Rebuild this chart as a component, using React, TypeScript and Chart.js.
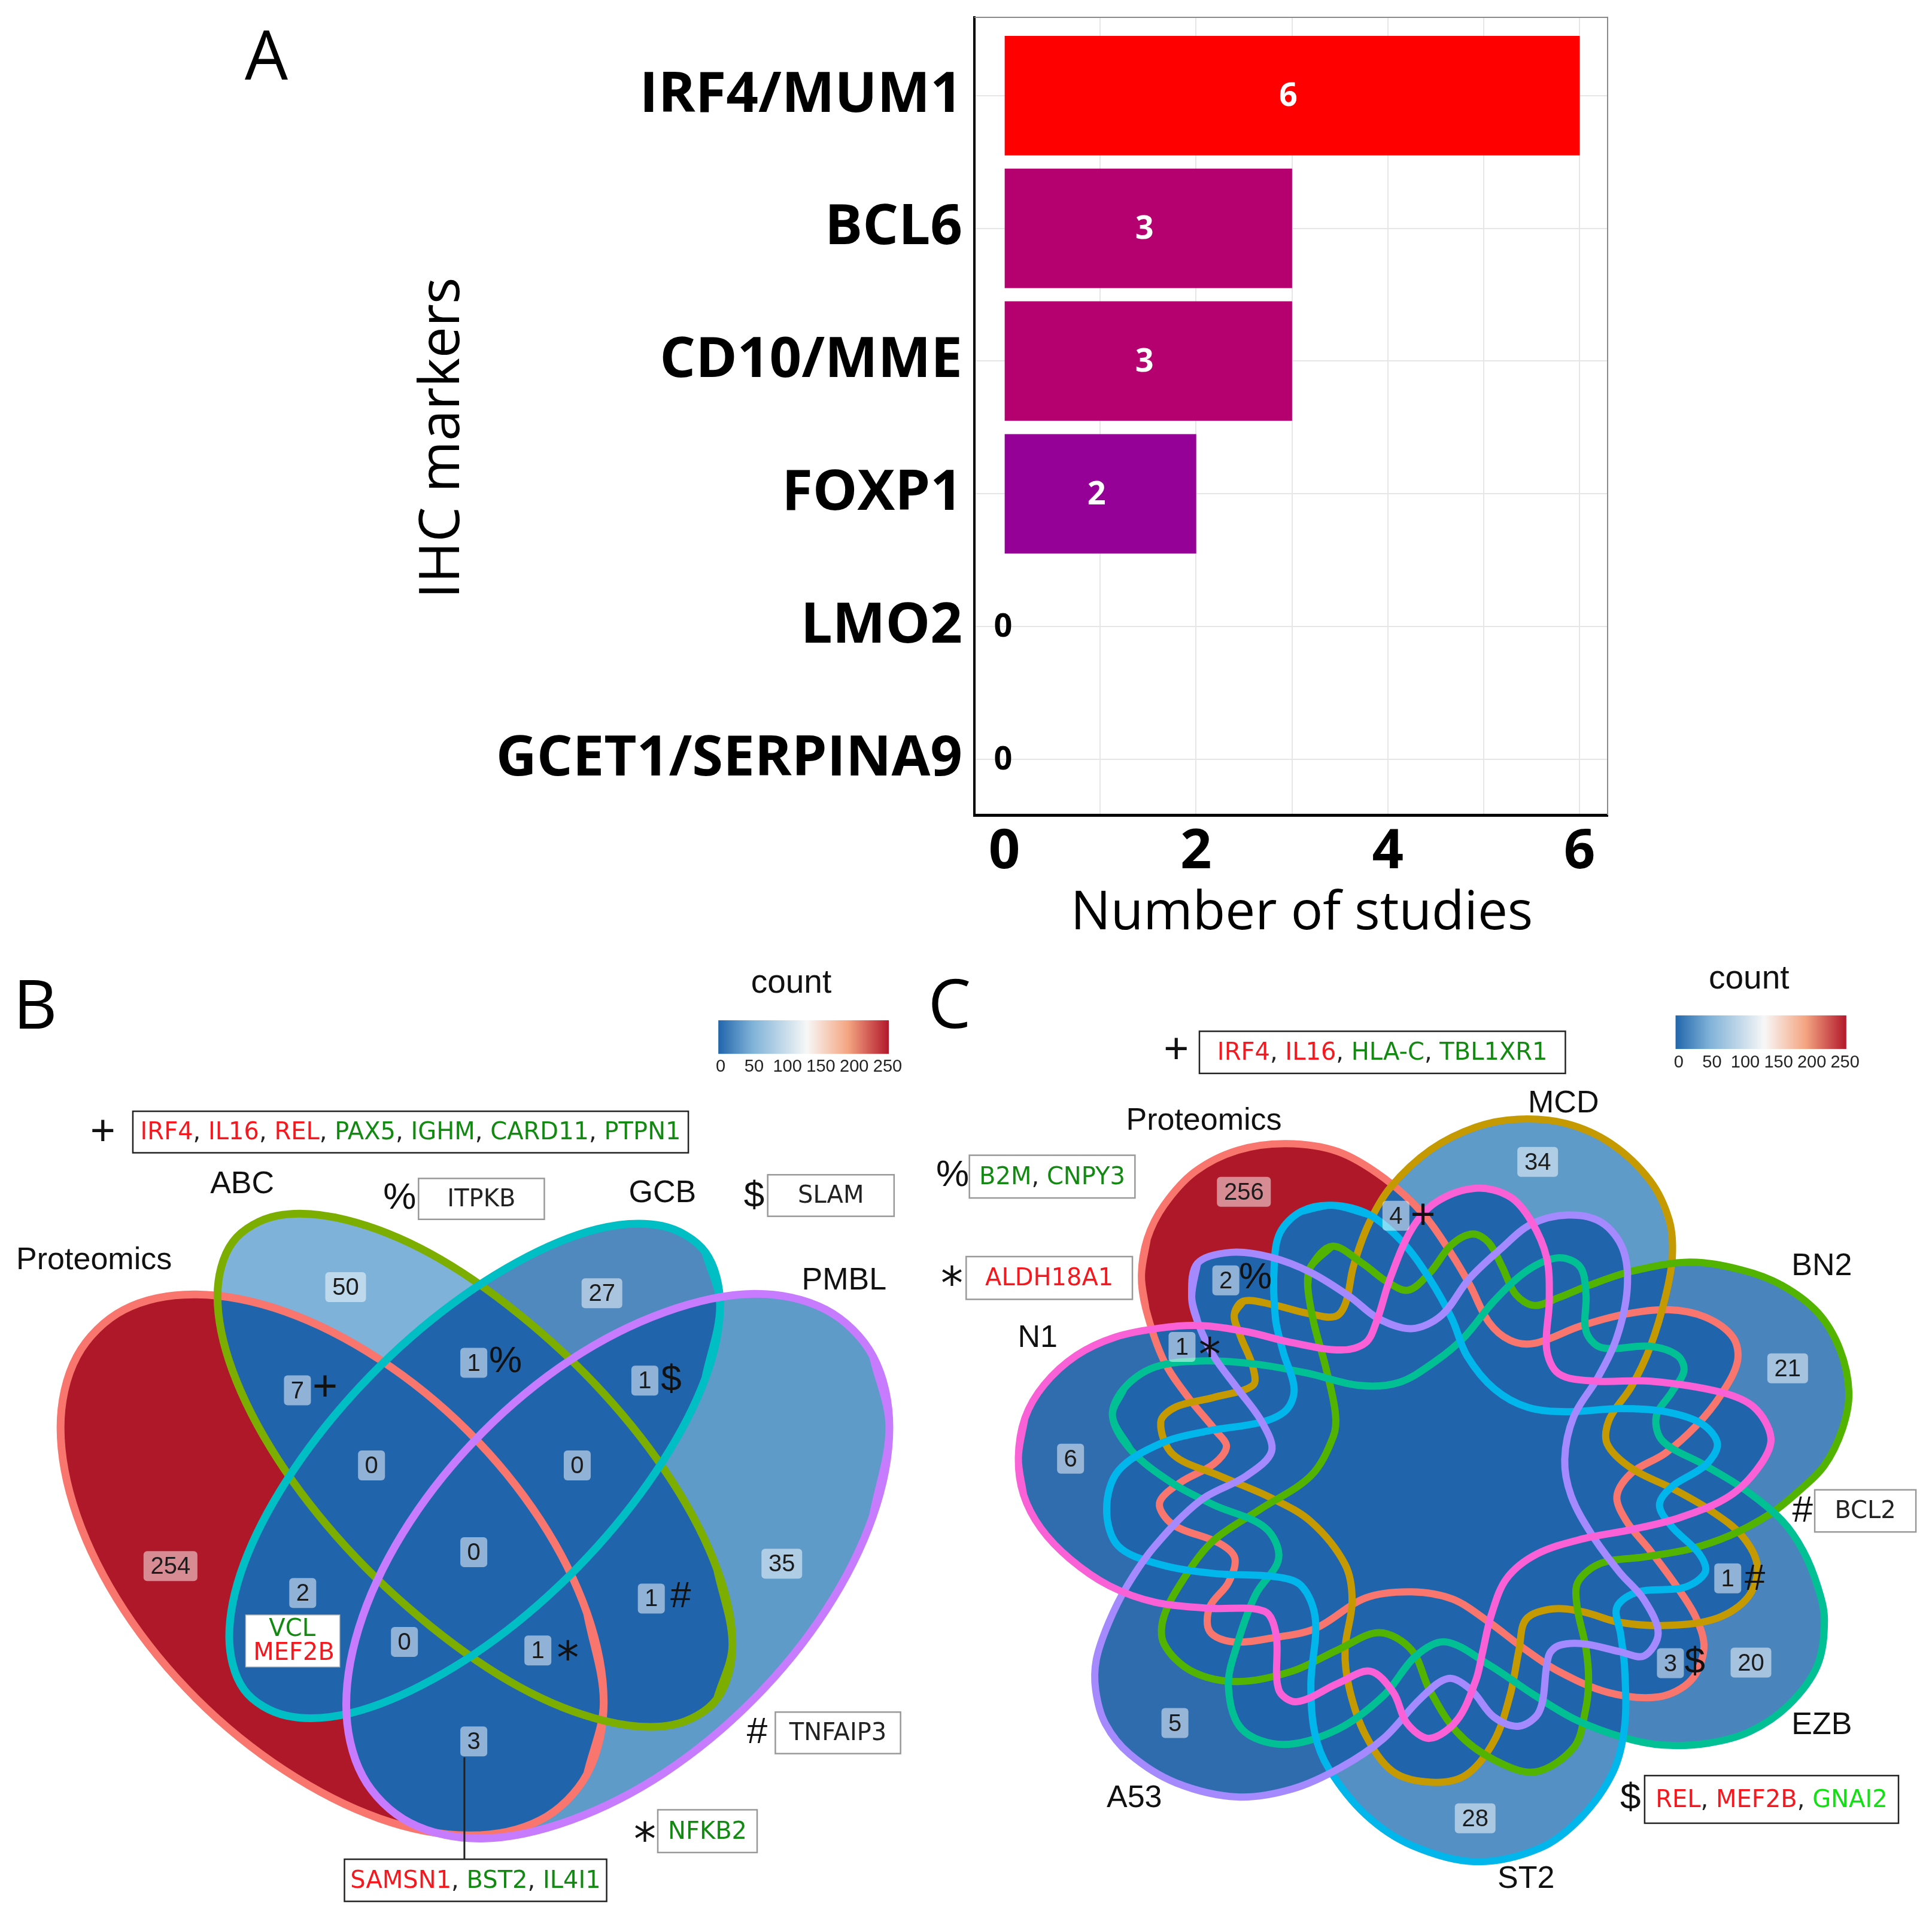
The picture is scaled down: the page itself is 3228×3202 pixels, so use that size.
import React, { useEffect, useRef } from "react";
import { Chart, registerables } from "chart.js";

Chart.register(...registerables);

type P = [number, number];

/* ---------- Panel A ---------- */
const markers = ["IRF4/MUM1", "BCL6", "CD10/MME", "FOXP1", "LMO2", "GCET1/SERPINA9"];
const studies = [6, 3, 3, 2, 0, 0];
const studyColors = ["#FF0000", "#B5006F", "#B5006F", "#950096", "rgba(0,0,0,0)", "rgba(0,0,0,0)"];

/* ---------- Panel B: outlines ---------- */
const bProteomics: P[] = [[1027,1220],[999,1337],[919,1413],[796,1438],[645,1410],[485,1332],[334,1214],[211,1069],[131,915],[103,770],[131,653],[211,577],[334,552],[485,580],[645,658],[796,776],[919,921],[999,1075]];
const bABC: P[] = [[1246,1125],[1220,1214],[1144,1257],[1027,1250],[884,1195],[732,1095],[589,966],[472,821],[396,678],[370,555],[396,466],[472,423],[589,430],[732,485],[884,585],[1027,714],[1144,859],[1220,1002]];
const bGCB: P[] = [[1225,570],[1200,689],[1127,826],[1016,965],[880,1089],[735,1183],[599,1237],[488,1242],[415,1199],[390,1112],[415,993],[488,856],[599,717],[735,593],[880,499],[1016,445],[1127,440],[1200,483]];
const bPMBL: P[] = [[1513,770],[1485,915],[1405,1069],[1282,1215],[1131,1335],[971,1413],[820,1443],[697,1417],[617,1341],[589,1224],[617,1079],[697,925],[820,779],[971,659],[1131,581],[1282,551],[1405,577],[1485,653]];

const bSetNames = ["Proteomics", "ABC", "GCB", "PMBL"];
const bOutlineColors = ["#F8766D", "#7CAE00", "#00BFC4", "#C77CFF"];
const bFillColors = ["#AE1829", "#7FB2D8", "#5089BE", "#5E9BC9"];
const bSetLabels: [string, number, number][] = [["Proteomics",160,497],["ABC",412,372],["GCB",1127,387],["PMBL",1436,530]];
const bCounts: [string, number, number][] = [["254",290,997],["50",588,540],["27",1024,550],["35",1330,993],["7",506,709],["1",806,664],["1",1097,693],["0",632,832],["0",982,832],["0",806,974],["2",515,1041],["1",1108,1050],["0",688,1121],["1",915,1135],["3",806,1284]];
const bSymbols: [string, number, number][] = [["+",553,706],["%",860,662],["$",1142,693],["#",1158,1048],["*",966,1135],["+",175,287],["%",680,395],["$",1283,392],["#",1288,1270],["*",1097,1432]];

/* ---------- Panel C: outlines ---------- */
const cProteomics: P[] = [[341,521],[350,461],[376,406],[424,351],[490,316],[566,305],[646,318],[717,361],[779,421],[823,487],[851,537],[880,597],[913,627],[951,632],[1022,604],[1093,584],[1159,577],[1216,589],[1259,622],[1266,662],[1240,717],[1202,767],[1154,812],[1102,844],[1079,882],[1093,922],[1131,972],[1173,1032],[1202,1082],[1214,1132],[1194,1184],[1144,1211],[1066,1204],[988,1169],[931,1129],[881,1089],[824,1051],[760,1039],[689,1049],[611,1099],[547,1114],[483,1121],[447,1104],[447,1064],[476,1024],[486,984],[461,959],[390,929],[369,894],[400,861],[454,829],[473,801],[457,776],[414,721],[376,661],[348,576]];
const cMCD: P[] = [[485,586],[499,563],[542,568],[599,583],[642,588],[658,566],[670,506],[694,436],[728,376],[790,315],[860,278],[925,265],[1000,272],[1070,305],[1130,365],[1160,430],[1165,490],[1154,557],[1131,637],[1102,702],[1067,757],[1064,797],[1102,837],[1169,872],[1226,907],[1273,947],[1297,997],[1283,1047],[1235,1082],[1159,1094],[1083,1089],[1027,1072],[979,1067],[938,1084],[927,1134],[913,1209],[888,1284],[845,1339],[792,1351],[732,1334],[689,1274],[664,1199],[657,1134],[668,1054],[657,994],[604,924],[540,884],[462,849],[390,814],[371,761],[395,736],[452,721],[514,701],[514,671],[495,621]];
const cBN2: P[] = [[604,506],[637,473],[684,501],[722,531],[755,545],[789,516],[822,471],[855,453],[880,467],[901,507],[922,552],[951,570],[989,557],[1036,537],[1102,514],[1192,499],[1273,512],[1335,537],[1391,582],[1425,642],[1439,712],[1429,772],[1401,832],[1358,877],[1316,912],[1254,947],[1192,969],[1121,982],[1055,992],[1019,1022],[1017,1062],[1031,1132],[1035,1185],[1030,1234],[1012,1294],[952,1334],[888,1314],[831,1269],[788,1199],[760,1134],[710,1106],[646,1134],[575,1169],[490,1186],[419,1169],[376,1124],[376,1079],[412,1009],[454,954],[525,904],[604,849],[639,784],[642,746],[627,671],[608,596],[599,536]];
const cEZB: P[] = [[296,751],[314,706],[362,671],[433,661],[518,666],[599,681],[679,701],[741,696],[798,661],[842,622],[889,562],[941,512],[989,492],[1022,507],[1031,552],[1031,612],[1055,639],[1131,637],[1173,652],[1183,677],[1164,712],[1140,752],[1150,792],[1216,832],[1278,872],[1335,922],[1368,972],[1391,1032],[1401,1085],[1390,1160],[1345,1225],[1285,1268],[1220,1287],[1150,1290],[1090,1278],[1016,1249],[952,1209],[881,1159],[813,1121],[767,1144],[717,1209],[646,1264],[561,1289],[497,1264],[476,1194],[490,1124],[518,1044],[554,984],[533,934],[452,896],[386,859],[324,806]];
const cST2: P[] = [[637,406],[694,421],[746,466],[788,526],[823,592],[846,652],[889,707],[941,737],[1003,744],[1083,739],[1154,744],[1211,764],[1235,797],[1216,832],[1164,867],[1145,897],[1164,932],[1207,977],[1216,1007],[1183,1032],[1112,1039],[1079,1064],[1085,1110],[1091,1164],[1091,1259],[1073,1334],[1023,1409],[959,1459],[860,1481],[760,1454],[689,1404],[632,1329],[610,1270],[604,1190],[611,1084],[589,1029],[547,1014],[454,1009],[369,994],[305,964],[287,904],[305,841],[371,796],[442,776],[528,761],[566,741],[578,706],[561,646],[549,591],[547,506],[556,451],[589,416]];
const cA53: P[] = [[419,556],[428,501],[480,483],[542,491],[604,516],[665,556],[708,591],[760,608],[807,586],[850,526],[899,477],[946,437],[1003,422],[1055,434],[1088,477],[1095,542],[1079,622],[1050,687],[1012,752],[998,822],[1008,882],[1041,947],[1083,1007],[1121,1052],[1143,1107],[1121,1144],[1083,1137],[1027,1124],[989,1127],[973,1144],[959,1234],[927,1259],[888,1244],[852,1199],[817,1181],[774,1214],[717,1279],[650,1327],[575,1362],[490,1375],[395,1352],[323,1305],[285,1255],[270,1200],[271,1150],[290,1090],[319,1029],[362,964],[433,889],[504,849],[543,809],[528,761],[490,706],[452,651],[428,596]];
const cN1: P[] = [[150,820],[160,755],[190,700],[240,652],[300,622],[370,607],[433,603],[504,613],[575,631],[651,643],[689,631],[706,596],[727,526],[760,446],[798,401],[860,378],[913,392],[946,432],[970,492],[974,562],[970,642],[989,682],[1045,694],[1131,694],[1240,712],[1292,737],[1318,787],[1301,832],[1254,882],[1178,917],[1102,937],[1027,952],[955,977],[908,1017],[884,1077],[870,1140],[860,1184],[831,1249],[788,1279],[753,1254],[732,1204],[696,1169],[646,1189],[582,1219],[554,1199],[550,1109],[532,1071],[447,1066],[362,1056],[291,1029],[230,985],[185,935],[158,880]];

const cSetNames = ["Proteomics", "MCD", "BN2", "EZB", "ST2", "A53", "N1"];
const cOutlineColors = ["#F8766D", "#C49A00", "#53B400", "#00C094", "#00B6EB", "#A58AFF", "#FB61D7"];
const cFillColors = ["#AE1829", "#5E9BC8", "#4A84BD", "#4A84BD", "#5490C3", "#2E6CAE", "#2F6DAF"];
const cSetLabels: [string, number, number][] = [["Proteomics",438,268],["MCD",996,240],["BN2",1397,506],["N1",180,624],["A53",330,1378],["ST2",938,1510],["EZB",1397,1258]];
const cCounts: [string, number, number][] = [["256",500,384],["34",956,335],["4",736,423],["2",472,529],["1",404,638],["21",1344,673],["6",231,821],["1",1251,1017],["3",1162,1156],["20",1287,1155],["5",393,1254],["28",859,1410]];
const cSymbols: [string, number, number][] = [["+",778,424],["%",518,525],["*",447,638],["#",1293,1019],["$",1200,1155],["+",395,153],["%",48,358],["*",47,521],["#",1367,907],["$",1100,1378]];

/* ---------- Gene boxes ---------- */
const RED = "#F5181E";
const GRN = "#128A12";
const LIME = "#12E012";
const INK = "#222222";
type Run = [string, string];
type Box = { rect: [number, number, number, number]; edge: string; runs: Run[] };
const list = (items: [string, string][]): Run[] =>
  items.flatMap(([t, c], i) => (i ? [[", ", INK] as Run, [t, c] as Run] : [[t, c] as Run]));

const bBoxes: Box[] = [
  { rect: [226,252,1171,320], edge: "#222", runs: list([["IRF4",RED],["IL16",RED],["REL",RED],["PAX5",GRN],["IGHM",GRN],["CARD11",GRN],["PTPN1",GRN]]) },
  { rect: [712,362,926,429], edge: "#999", runs: list([["ITPKB",INK]]) },
  { rect: [1306,356,1521,424], edge: "#999", runs: list([["SLAM",INK]]) },
  { rect: [1319,1236,1532,1304], edge: "#999", runs: list([["TNFAIP3",INK]]) },
  { rect: [1119,1396,1288,1466], edge: "#999", runs: list([["NFKB2",GRN]]) },
  { rect: [586,1477,1032,1546], edge: "#222", runs: list([["SAMSN1",RED],["BST2",GRN],["IL4I1",GRN]]) },
];
const cBoxes: Box[] = [
  { rect: [431,121,999,190], edge: "#222", runs: list([["IRF4",RED],["IL16",RED],["HLA-C",GRN],["TBL1XR1",GRN]]) },
  { rect: [74,324,331,394], edge: "#999", runs: list([["B2M",GRN],["CNPY3",GRN]]) },
  { rect: [69,490,327,560], edge: "#999", runs: list([["ALDH18A1",RED]]) },
  { rect: [1386,872,1543,941], edge: "#999", runs: list([["BCL2",INK]]) },
  { rect: [1122,1340,1516,1418], edge: "#222", runs: list([["REL",RED],["MEF2B",RED],["GNAI2",LIME]]) },
];

const legendTicks = [0, 50, 100, 150, 200, 250];
const OVERLAP = "#2065AC";

function text(ctx: any, s: string, x: number, y: number, font: string, color: string, align = "center", base = "middle") {
  ctx.font = font;
  ctx.fillStyle = color;
  ctx.textAlign = align;
  ctx.textBaseline = base;
  ctx.fillText(s, x, y);
}

function closed(pts: P[]) {
  const ring = [pts[pts.length - 1], ...pts, pts[0], pts[1]];
  return ring.map(([x, y]) => ({ x, y }));
}

function vennChart(canvas: HTMLCanvasElement, cfg: any) {
  const px = (chart: any, x: number) => chart.scales.x.getPixelForValue(x);
  const py = (chart: any, y: number) => chart.scales.y.getPixelForValue(y);
  const plugin = {
    id: "venn",
    beforeDatasetsDraw(chart: any) {
      const ctx = chart.ctx;
      const paths = cfg.outlines.map((_: P[], i: number) => {
        const el = chart.getDatasetMeta(i).dataset;
        el.updateControlPoints(chart.chartArea);
        const p = new Path2D();
        el.path(p);
        p.closePath();
        return p;
      });
      paths.forEach((p: Path2D, i: number) => {
        ctx.fillStyle = cfg.fills[i];
        ctx.fill(p);
      });
      for (let i = 0; i < paths.length; i++) {
        for (let j = i + 1; j < paths.length; j++) {
          ctx.save();
          ctx.clip(paths[i]);
          ctx.fillStyle = OVERLAP;
          ctx.fill(paths[j]);
          ctx.restore();
        }
      }
    },
    afterDatasetsDraw(chart: any) {
      const ctx = chart.ctx;
      ctx.save();
      const sans = '"Liberation Sans"';
      const deja = '"DejaVu Sans"';
      text(ctx, cfg.letter[0], px(chart, cfg.letter[1]), py(chart, cfg.letter[2]), '114px "Open Sans"', "#000");

      // region counts
      cfg.counts.forEach(([s, x, y]: [string, number, number]) => {
        const w = s.length === 1 ? 45 : s.length === 2 ? 68 : 90;
        ctx.fillStyle = "rgba(255,255,255,0.5)";
        ctx.beginPath();
        ctx.roundRect(px(chart, x) - w / 2, py(chart, y) - 25, w, 50, 6);
        ctx.fill();
        text(ctx, s, px(chart, x), py(chart, y) + 2, `40px ${sans}`, "#1c1c1c");
      });

      // set names
      cfg.setLabels.forEach(([s, x, y]: [string, number, number]) => {
        text(ctx, s, px(chart, x), py(chart, y), `52px ${sans}`, "#111");
      });

      // leader line
      if (cfg.leader) {
        ctx.strokeStyle = "#222";
        ctx.lineWidth = 3;
        ctx.beginPath();
        ctx.moveTo(px(chart, cfg.leader[0]), py(chart, cfg.leader[1]));
        ctx.lineTo(px(chart, cfg.leader[0]), py(chart, cfg.leader[2]));
        ctx.stroke();
      }

      // gene boxes
      cfg.boxes.forEach((b: Box) => {
        const [x0, y0, x1, y1] = b.rect;
        const l = px(chart, x0), t = py(chart, y0), r = px(chart, x1), bt = py(chart, y1);
        ctx.fillStyle = "#fff";
        ctx.fillRect(l, t, r - l, bt - t);
        ctx.strokeStyle = b.edge;
        ctx.lineWidth = 2.5;
        ctx.strokeRect(l, t, r - l, bt - t);
        const font = `40px ${deja}`;
        ctx.font = font;
        const total = b.runs.reduce((a, [s]) => a + ctx.measureText(s).width, 0);
        let cx = (l + r) / 2 - total / 2;
        b.runs.forEach(([s, c]) => {
          text(ctx, s, cx, (t + bt) / 2 + 2, font, c, "left");
          cx += ctx.measureText(s).width;
        });
      });

      // two-line white box
      if (cfg.stack) {
        const [x0, y0, x1, y1] = cfg.stack.rect;
        const l = px(chart, x0), t = py(chart, y0), r = px(chart, x1), bt = py(chart, y1);
        ctx.fillStyle = "#fff";
        ctx.fillRect(l, t, r - l, bt - t);
        ctx.strokeStyle = "#bbb";
        ctx.lineWidth = 1.5;
        ctx.strokeRect(l, t, r - l, bt - t);
        cfg.stack.lines.forEach(([s, c, x, y]: [string, string, number, number]) => {
          text(ctx, s, px(chart, x), py(chart, y), `40px ${deja}`, c);
        });
      }

      // symbols
      cfg.symbols.forEach(([s, x, y]: [string, number, number]) => {
        if (s === "*") {
          text(ctx, s, px(chart, x), py(chart, y) + 38, `74px ${deja}`, "#111", "center", "alphabetic");
        } else {
          text(ctx, s, px(chart, x), py(chart, y), `${s === "+" ? 72 : 62}px ${sans}`, "#111");
        }
      });

      // colour bar
      const [bx0, bx1, by0, by1, ly, tx0, tx1] = cfg.bar;
      const l = px(chart, bx0), r = px(chart, bx1), t = py(chart, by0), bt = py(chart, by1);
      const g = ctx.createLinearGradient(l, 0, r, 0);
      g.addColorStop(0, "#2166AC");
      g.addColorStop(0.2, "#7FB2D8");
      g.addColorStop(0.52, "#F7F7F7");
      g.addColorStop(0.76, "#F4A582");
      g.addColorStop(1, "#B2182B");
      ctx.fillStyle = g;
      ctx.fillRect(l, t, r - l, bt - t);
      legendTicks.forEach((v, i) => {
        const x = tx0 + ((tx1 - tx0) * i) / (legendTicks.length - 1);
        text(ctx, String(v), px(chart, x), py(chart, ly), `29px ${sans}`, "#222");
      });
      text(ctx, "count", px(chart, cfg.count[0]), py(chart, cfg.count[1]), `55px ${sans}`, "#111");
      ctx.restore();
    },
  };
  return new Chart(canvas, {
    type: "scatter",
    data: {
      datasets: cfg.outlines.map((pts: P[], i: number) => ({
        label: cfg.names[i],
        data: closed(pts),
        showLine: true,
        tension: 0.34,
        fill: false,
        pointRadius: 0,
        borderColor: cfg.colors[i],
        borderWidth: cfg.stroke,
        borderJoinStyle: "round",
        order: -i,
      })),
    },
    options: {
      animation: false,
      responsive: false,
      devicePixelRatio: 1,
      events: [],
      layout: { padding: 0 },
      plugins: { legend: { display: false }, tooltip: { enabled: false } },
      scales: {
        x: { type: "linear", min: 0, max: 1568, display: false },
        y: { type: "linear", min: 0, max: 1568, reverse: true, display: false },
      },
    },
    plugins: [plugin],
  } as any);
}

function barChart(canvas: HTMLCanvasElement) {
  const plugin = {
    id: "barNotes",
    afterDatasetsDraw(chart: any) {
      const { ctx, chartArea: a, scales } = chart;
      ctx.save();
      ctx.strokeStyle = "#8a8a8a";
      ctx.lineWidth = 2;
      ctx.beginPath();
      ctx.moveTo(a.left, a.top);
      ctx.lineTo(a.right, a.top);
      ctx.lineTo(a.right, a.bottom);
      ctx.stroke();
      studies.forEach((v, i) => {
        text(ctx, String(v), scales.x.getPixelForValue(v / 2) - (v ? 6 : 2), scales.y.getPixelForValue(i) + 2,
          'bold 54px "Open Sans"', v ? "#FFFFFF" : "#000000");
      });
      text(ctx, "Number of studies", 2175, 1528, '89px "Open Sans"', "#000");
      ctx.translate(740, 732);
      ctx.rotate(-Math.PI / 2);
      text(ctx, "IHC markers", 0, 0, '93px "Open Sans"', "#000");
      ctx.setTransform(1, 0, 0, 1, 0, 0);
      text(ctx, "A", 445, 101, '114px "Open Sans"', "#000");
      ctx.restore();
    },
  };
  const zeroPad = (s: any) => {
    s.paddingTop = 0;
    s.paddingBottom = 0;
    s.paddingLeft = 0;
    s.paddingRight = 0;
  };
  return new Chart(canvas, {
    type: "bar",
    data: {
      datasets: [
        {
          data: studies.map((v, i) => ({ x: v, y: i })),
          backgroundColor: studyColors,
          borderWidth: 0,
          barThickness: 199,
        },
      ],
    },
    options: {
      indexAxis: "y",
      animation: false,
      responsive: false,
      devicePixelRatio: 1,
      events: [],
      layout: { padding: { left: 0, right: 3228 - 2686, top: 29, bottom: 0 } },
      plugins: { legend: { display: false }, tooltip: { enabled: false } },
      scales: {
        x: {
          type: "linear",
          position: "bottom",
          min: -0.312,
          max: 6.293,
          ticks: {
            stepSize: 1,
            includeBounds: false,
            autoSkip: false,
            maxRotation: 0,
            padding: 8,
            color: "#000",
            font: { family: "Open Sans", weight: "bold", size: 92 },
            callback: (v: number) => (v % 2 === 0 ? String(v) : ""),
          },
          grid: {
            drawTicks: false,
            lineWidth: 2,
            color: (c: any) => (c.tick && c.tick.value === 0 ? "transparent" : "#E6E6E6"),
          },
          border: { display: true, color: "#000", width: 5 },
          afterFit: (s: any) => {
            s.height = 1600 - 1362;
            zeroPad(s);
          },
        },
        y: {
          type: "linear",
          position: "left",
          reverse: true,
          offset: false,
          min: -0.59,
          max: 5.42,
          ticks: {
            stepSize: 1,
            includeBounds: false,
            autoSkip: false,
            padding: 20,
            color: "#000",
            font: { family: "Open Sans", weight: "bold", size: 94 },
            callback: (v: number) => (markers[v] !== undefined ? markers[v] : ""),
          },
          grid: { offset: false, drawTicks: false, lineWidth: 2, color: "#E6E6E6" },
          border: { display: true, color: "#000", width: 4 },
          afterFit: (s: any) => {
            s.width = 1628;
            zeroPad(s);
          },
        },
      },
    },
    plugins: [plugin],
  } as any);
}

export default function App() {
  const aRef = useRef<HTMLCanvasElement>(null);
  const bRef = useRef<HTMLCanvasElement>(null);
  const cRef = useRef<HTMLCanvasElement>(null);

  useEffect(() => {
    const charts = [
      barChart(aRef.current!),
      vennChart(bRef.current!, {
        names: bSetNames,
        outlines: [bProteomics, bABC, bGCB, bPMBL],
        colors: bOutlineColors,
        fills: bFillColors,
        stroke: 13,
        setLabels: bSetLabels,
        counts: bCounts,
        symbols: bSymbols,
        boxes: bBoxes,
        leader: [790, 1310, 1477],
        stack: { rect: [418, 1077, 578, 1162], lines: [["VCL", GRN, 497, 1101], ["MEF2B", RED, 500, 1140]] },
        letter: ["B", 60, 85],
        bar: [1222, 1512, 103, 158, 179, 1226, 1510],
        count: [1346, 43],
      }),
      vennChart(cRef.current!, {
        names: cSetNames,
        outlines: [cProteomics, cMCD, cBN2, cEZB, cST2, cA53, cN1],
        colors: cOutlineColors,
        fills: cFillColors,
        stroke: 12,
        setLabels: cSetLabels,
        counts: cCounts,
        symbols: cSymbols,
        boxes: cBoxes,
        letter: ["C", 43, 84],
        bar: [1170, 1435, 95, 150, 172, 1175, 1433],
        count: [1284, 36],
      }),
    ];
    return () => charts.forEach((c) => c.destroy());
  }, []);

  const abs = (left: number, top: number): React.CSSProperties => ({ position: "absolute", left, top, display: "block" });
  return (
    <div style={{ position: "absolute", left: 0, top: 0, width: 3228, height: 3202, background: "#fff", overflow: "hidden" }}>
      <canvas ref={aRef} width={3228} height={1600} style={abs(0, 0)} />
      <canvas ref={bRef} width={1540} height={1600} style={abs(0, 1600)} />
      <canvas ref={cRef} width={1688} height={1600} style={abs(1540, 1600)} />
    </div>
  );
}
